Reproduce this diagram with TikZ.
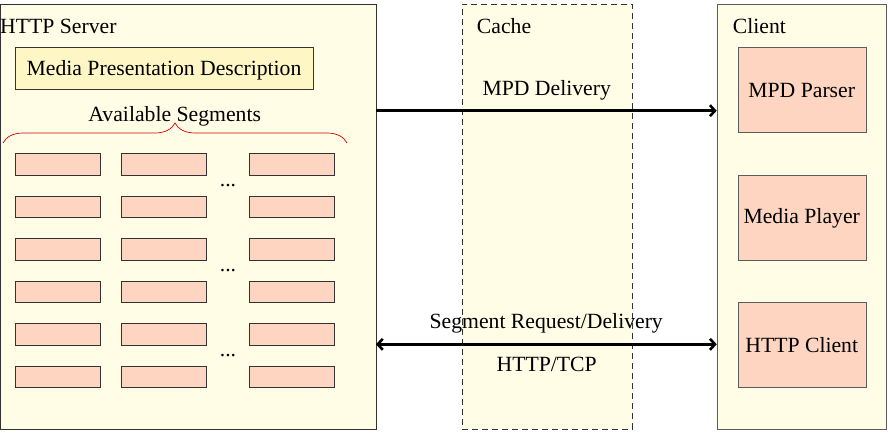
\documentclass[tikz,border=0pt]{standalone}
\usepackage{fontspec}
\setmainfont{Liberation Serif}
\usetikzlibrary{arrows.meta,decorations.pathreplacing}
\definecolor{bgyel}{HTML}{FFFDE6}
\definecolor{mpdyel}{HTML}{FFF6C6}
\definecolor{segpink}{HTML}{FDD5C0}
\definecolor{edge}{HTML}{333333}
\tikzset{
  panel/.style={draw=edge, fill=bgyel, line width=0.9pt},
  seg/.style={draw=edge, fill=segpink, line width=0.9pt, minimum width=85pt, minimum height=21.5pt, inner sep=0pt, anchor=north west},
  cbox/.style={draw=edge!80, fill=segpink, line width=0.9pt, minimum width=128pt, minimum height=85pt, inner sep=0pt, anchor=north west},
  lbl/.style={inner sep=0pt, anchor=base west},
  clbl/.style={inner sep=0pt, anchor=base},
  tip/.tip={Straight Barb[length=5pt,width=11pt,line width=2.6pt]},
  flow/.style={line width=3pt},
}
\begin{document}
\begin{tikzpicture}[x=1pt,y=-1pt,font=\fontsize{21.7pt}{24pt}\selectfont\rmfamily]
\useasboundingbox (0,0) rectangle (888,434);
% panels
\node[panel, minimum width=376pt, minimum height=425pt, inner sep=0pt, anchor=north west] (server) at (0,4) {};
\node[panel, dash pattern=on 6pt off 4pt, minimum width=170pt, minimum height=425pt, inner sep=0pt, anchor=north west] (cache) at (461.7,4) {};
\node[panel, draw=edge!80, minimum width=169pt, minimum height=425pt, inner sep=0pt, anchor=north west] (client) at (716.7,4) {};
% titles
\node[lbl] (tserver) at (0,33) {HTTP Server};
\node[lbl] (tcache) at (476.7,33) {Cache};
\node[lbl] (tclient) at (732.7,33) {Client};
% MPD
\node[draw=edge, fill=mpdyel, line width=0.9pt, minimum width=298pt, minimum height=42.5pt, inner sep=0pt, anchor=north west] (mpd) at (15,46.7) {};
\node[clbl] (mpdt) at (164,75.5) {Media Presentation Description};
\node[clbl] (avail) at (174.7,121.7) {Available Segments};
\draw[red!85!black, line width=0.7pt, decorate, decoration={brace, amplitude=20pt}] (3,143) -- (347,143) node[pos=0.5, inner sep=0pt] (bracetip) {};
% segments
\foreach \r/\y in {1/153,2/195.5,3/238,4/280.5,5/323,6/365.5}{
  \foreach \c/\x in {1/15,2/121,3/249}{
    \node[seg] (s\r\c) at (\x,\y) {};
  }
}
\node[clbl] (dots1) at (228,186) {...};
\node[clbl] (dots2) at (228,271) {...};
\node[clbl] (dots3) at (228,356) {...};
% client boxes
\node[cbox] (parser) at (737.7,46.7) {};
\node[clbl] (parsert) at (801.7,97) {MPD Parser};
\node[cbox] (player) at (737.7,174.7) {};
\node[clbl] (playert) at (801.7,223) {Media Player};
\node[cbox] (hclient) at (737.7,301.7) {};
\node[clbl] (hclientt) at (801.7,352) {HTTP Client};
% arrows
\coordinate (a1s) at (376,110.7);
\coordinate (a1e) at (716.7,110.7);
\draw[flow, -tip] (a1s) -- (a1e);
\node[clbl] (mpddel) at (546.7,95) {MPD Delivery};
\coordinate (a2s) at (376,344.3);
\coordinate (a2e) at (716.7,344.3);
\draw[flow, tip-tip] (a2s) -- (a2e);
\node[clbl] (segreq) at (546.2,328) {Segment Request/Delivery};
\node[clbl] (httptcp) at (546.7,371.7) {HTTP/TCP};
\end{tikzpicture}
\end{document}
